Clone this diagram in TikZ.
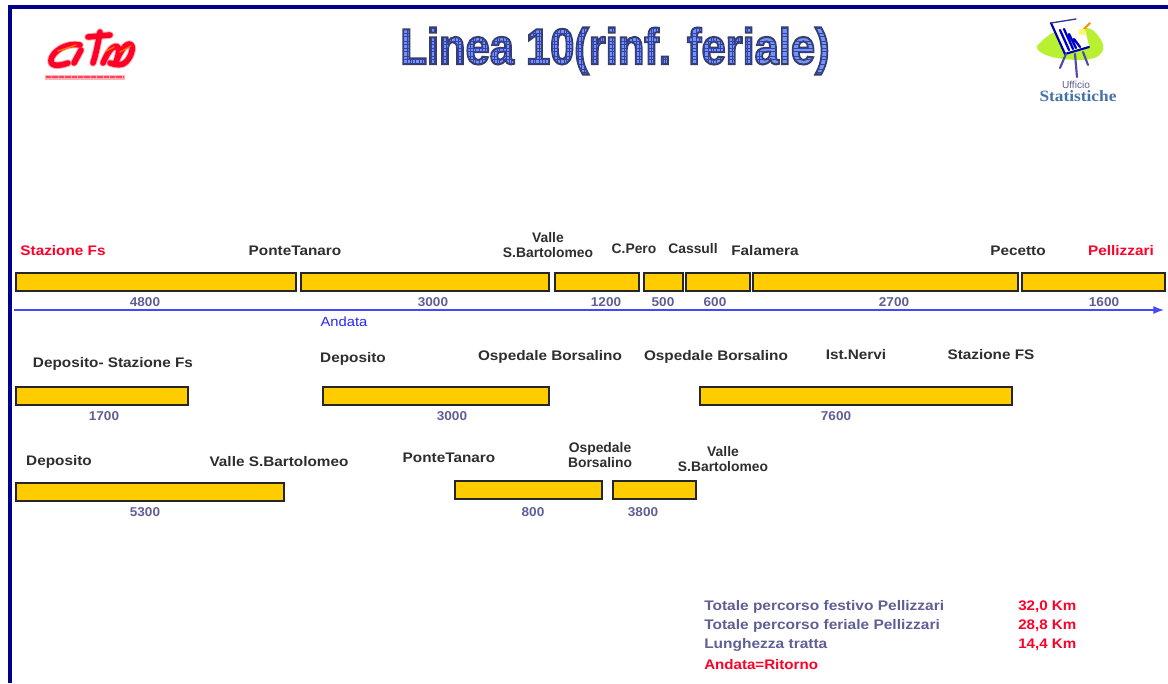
\documentclass[tikz,border=0pt]{standalone}
\usepackage{fontspec}
\setmainfont{Liberation Sans}
\newfontfamily\widef[FakeStretch=1.105]{Liberation Sans}
\newfontfamily\widerf[FakeStretch=1.117]{Liberation Sans}
\newfontfamily\numf[FakeStretch=1.06]{Liberation Sans}
\newfontfamily\valf[FakeStretch=1.09]{Liberation Sans}
\newfontfamily\logof[FakeStretch=1.1]{Liberation Serif}
\usetikzlibrary{arrows.meta}
\definecolor{framec}{RGB}{0,0,140}
\definecolor{barc}{RGB}{255,204,0}
\definecolor{numc}{RGB}{95,95,150}
\definecolor{redc}{RGB}{255,0,40}
\definecolor{linec}{RGB}{70,70,255}
\definecolor{limec}{RGB}{185,240,50}
\definecolor{statc}{RGB}{70,115,165}
\newcount\gridn
\newbox\titlebox
\gdef\gridlines{}
\gridn=0
\loop\ifnum\gridn<120
  \xdef\gridlines{\gridlines \the\numexpr\gridn*9/4\relax\space -12 m \the\numexpr\gridn*9/4\relax\space 36 l }
  \advance\gridn 1
\repeat
\gridn=-4
\loop\ifnum\gridn<14
  \xdef\gridlines{\gridlines 0 \the\numexpr\gridn*5/2\relax\space m 330 \the\numexpr\gridn*5/2\relax\space l }
  \advance\gridn 1
\repeat
\tikzset{
  x=0.75pt,y=-0.75pt,
  seg/.style={draw=black!85,line width=1.1pt,fill=barc},
  stop/.style={font=\fontsize{10.4pt}{11.6pt}\selectfont\bfseries,text=black!82,align=center,inner sep=0pt},
  wstop/.style={font=\fontsize{10.4pt}{11.6pt}\widef\bfseries,text=black!82,align=center,inner sep=0pt},
  rstop/.style={wstop,text=redc},
  dist/.style={font=\fontsize{9.6pt}{11pt}\numf\bfseries,text=numc,inner sep=0pt},
  sumt/.style={font=\fontsize{10.4pt}{12pt}\widerf\bfseries,text=numc,inner sep=0pt,anchor=west},
  sumr/.style={font=\fontsize{10.4pt}{12pt}\valf\bfseries,text=redc,inner sep=0pt,anchor=west},
  logohalo/.style={red!30,line width=5.6pt,line cap=round,line join=round},
  logocore/.style={redc,line width=4.2pt,line cap=round,line join=round},
  logostrk/.pic={
    \draw[pic actions] (80,45) .. controls (66,42) and (52,52) .. (51,60) .. controls (50,67) and (60,66) .. (68,63);
    \draw[pic actions] (81,50) -- (74,63);
    \draw[pic actions] (100,32) .. controls (98,44) and (96,54) .. (93,63);
    \draw[pic actions] (88,37) -- (110,35);
    \draw[pic actions] (103,63) .. controls (107,54) and (111,47) .. (116,46) .. controls (120,46) and (119,54) .. (116,62) .. controls (119,54) and (124,45) .. (129,44) .. controls (135,44) and (132,56) .. (126,62) .. controls (122,66) and (116,65) .. (110,63);
  },
}
\begin{document}
\begin{tikzpicture}
\useasboundingbox (0,0) rectangle (1168,683);
\fill[white] (0,0) rectangle (1168,683);
% frame
\draw[framec,line width=2.4pt] (10,683) -- (10,7) -- (1168,7);
% title
\node[inner sep=0pt,yscale=1.16,transform shape] (title) at (615,51) {%
  \fontsize{32.6pt}{36pt}\selectfont\bfseries
  \setbox\titlebox\hbox{Linea 10(rinf. feriale)}%
  \special{pdf:code q 6 Tr 1.3 w 0.22 0.24 0.38 RG 0.45 0.58 1 rg}%
  \copy\titlebox
  \special{pdf:code 0 Tr}%
  \kern-\wd\titlebox
  \special{pdf:content 0.2 w 0.2 0.26 0.65 RG \gridlines S}%
  \kern\wd\titlebox
  \special{pdf:code Q}%
};
% citta logo
\pic[logohalo] {logostrk};
\pic[logocore] {logostrk};
\draw[orange!90!red,line width=1pt,line cap=round] (58,51) -- (76,45) (106,51) -- (114,47) (120,52) -- (131,46);
\fill[red!30] (45,74.5) rectangle (125,80);
\draw[redc!75,line width=1.6pt,dash pattern=on 4pt off 0.8pt] (46,77.2) -- (124,77.2);
% statistics logo
\fill[limec] (1037,46) .. controls (1044,38) and (1052,32) .. (1060,30) .. controls (1074,26) and (1090,26) .. (1095,32) .. controls (1100,38) and (1105,44) .. (1103,50) .. controls (1100,58) and (1090,60) .. (1080,60) .. controls (1066,60) and (1050,58) .. (1042,53) .. controls (1038,51) and (1036,48) .. (1037,46) -- cycle;
\begin{scope}[line cap=round]
\fill[white] (1051,23) -- (1083,21) -- (1089,46) -- (1065,53) -- cycle;
\draw[blue!70!black,line width=1.6pt] (1051,23) -- (1065,54) -- (1089,47);
\draw[blue!55!black!80,line width=1pt] (1051,23) -- (1076,19);
\draw[blue!80!black,line width=1.7pt] (1060,30) -- (1069,50) (1064,29) -- (1073,49) (1069,34) -- (1076,48) (1074,39) -- (1080,47);
\draw[blue!55!black!70,line width=1.6pt] (1075,54) -- (1077,77) (1066,54) -- (1060,68) (1083,52) -- (1088,65);
\draw[orange!90!yellow,line width=1.5pt] (1080,33) -- (1090,23);
\fill[yellow!60] (1079,29) rectangle (1085,35);
\end{scope}
\node[inner sep=0pt,font=\fontsize{7.6pt}{8pt}\selectfont,text=numc] (uff) at (1076,85) {Ufficio};
\node[inner sep=0pt,font=\fontsize{11.8pt}{12pt}\logof\bfseries,text=statc] (sta) at (1078,96) {Statistiche};
% row 1 bars
\foreach \n/\a/\b in {a1/16/296,a2/301/549,a3/555/639,a4/644/683,a5/686/750,a6/753/1018,a7/1022/1165}{
  \draw[seg] (\a,273) rectangle (\b,291);
}
% row 1 arrow
\coordinate (arrS) at (14,310);
\coordinate (arrE) at (1164,310);
\draw[linec,line width=1pt,-{Latex[length=8pt,width=6pt]}] (arrS) -- (arrE);
\node[rstop] (s1) at (63,251) {Stazione Fs};
\node[wstop] (s2) at (295,251) {PonteTanaro};
\node[stop] (s3) at (548,245) {Valle\\S.Bartolomeo};
\node[stop] (s4) at (634,249) {C.Pero};
\node[stop] (s5) at (693,249) {Cassull};
\node[wstop] (s6) at (765,251) {Falamera};
\node[wstop] (s7) at (1018,251) {Pecetto};
\node[rstop] (s8) at (1121,251) {Pellizzari};
\node[dist] (d1) at (145,302) {4800};
\node[dist] (d2) at (433,302) {3000};
\node[dist] (d3) at (606,302) {1200};
\node[dist] (d4) at (663,302) {500};
\node[dist] (d5) at (715,302) {600};
\node[dist] (d6) at (894,302) {2700};
\node[dist] (d7) at (1104,302) {1600};
\node[inner sep=0pt,font=\fontsize{10pt}{11pt}\widef,text=blue!85!white] (and) at (344,322) {Andata};
% row 2
\draw[seg] (16,387) rectangle (188,405);
\draw[seg] (323,387) rectangle (549,405);
\draw[seg] (700,387) rectangle (1012,405);
\node[wstop] (t1) at (113,364) {Deposito- Stazione Fs};
\node[wstop] (t2) at (353,359) {Deposito};
\node[wstop] (t3) at (550,357) {Ospedale Borsalino};
\node[wstop] (t4) at (716,357) {Ospedale Borsalino};
\node[wstop] (t5) at (856,355) {Ist.Nervi};
\node[wstop] (t6) at (991,355) {Stazione FS};
\node[dist] (e1) at (104,416) {1700};
\node[dist] (e2) at (452,416) {3000};
\node[dist] (e3) at (836,416) {7600};
% row 3
\draw[seg] (16,483) rectangle (284,501);
\draw[seg] (455,481) rectangle (602,499);
\draw[seg] (613,481) rectangle (696,499);
\node[wstop] (u1) at (59,462) {Deposito};
\node[wstop] (u2) at (279,462) {Valle S.Bartolomeo};
\node[wstop] (u3) at (449,458) {PonteTanaro};
\node[stop] (u4) at (600,455) {Ospedale\\Borsalino};
\node[stop] (u5) at (723,459) {Valle\\S.Bartolomeo};
\node[dist] (f1) at (145,512) {5300};
\node[dist] (f2) at (533,512) {800};
\node[dist] (f3) at (643,512) {3800};
% summary
\node[sumt] (n1) at (704,607) {Totale percorso festivo Pellizzari};
\node[sumt] (n2) at (704,626) {Totale percorso feriale Pellizzari};
\node[sumt] (n3) at (704,645) {Lunghezza tratta};
\node[sumr] (n4) at (704,665) {Andata=Ritorno};
\node[sumr] (v1) at (1018,607) {32,0 Km};
\node[sumr] (v2) at (1018,626) {28,8 Km};
\node[sumr] (v3) at (1018,645) {14,4 Km};
\end{tikzpicture}
\end{document}
